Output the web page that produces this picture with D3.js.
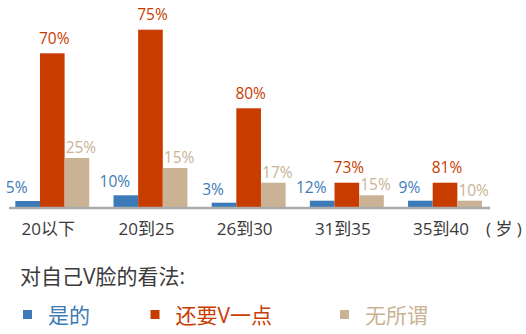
<!DOCTYPE html>
<html>
<head>
<meta charset="utf-8">
<script src="https://cdn.jsdelivr.net/npm/d3@7"></script>
<style>
  html, body { margin: 0; padding: 0; background: #fff; }
  svg { display: block; }
  text { font-family: "Open Sans", "Noto Sans CJK SC", sans-serif; }
</style>
</head>
<body>
<svg id="chart" width="526" height="334"></svg>
<script>
// ---- data ----
const categories = ["20以下", "20到25", "26到30", "31到35", "35到40"];
const seriesNames = ["是的", "还要V一点", "无所谓"];
// bar heights as drawn (relative units)
const barYes  = [6, 11.7, 4.3, 6.3, 6.3];
const barMore = [153.7, 177.3, 98.7, 24.3, 24.3];
const barAny  = [49, 39, 24.3, 11.7, 6.3];
// percentage labels
const pctYes  = [5, 10, 3, 12, 9];
const pctMore = [70, 75, 80, 73, 81];
const pctAny  = [25, 15, 17, 15, 10];
const unitLabel = "( 岁 )";
const titleText = "对自己V脸的看法:";

const colors = ["#3d7ab8", "#c93c00", "#c9b394"];
const textColor = "#3a3a3a";

const svg = d3.select("#chart");

const baseY = 207;
const x = d3.scaleBand().domain(categories).range([5.5, 491.8]).paddingInner(0.247).paddingOuter(0.1);
const xs = d3.scaleBand().domain(d3.range(3)).range([0, x.bandwidth()]).padding(0);
const y = d3.scaleLinear().domain([0, 180]).range([baseY, baseY - 180]);

const bars = [barYes, barMore, barAny];
const pcts = [pctYes, pctMore, pctAny];

// bars
bars.forEach((vals, s) => {
  svg.append("g").selectAll("rect").data(vals).join("rect")
    .attr("x", (d, i) => x(categories[i]) + xs(s))
    .attr("y", d => y(d))
    .attr("width", xs.bandwidth())
    .attr("height", d => y(0) - y(d))
    .attr("fill", colors[s]);
});

// axis line
const xAxis = d3.axisBottom(x).tickSize(0).tickFormat("");
const ax = svg.append("g").attr("transform", `translate(0,${baseY + 1})`).call(xAxis);
ax.select(".domain").attr("stroke", "#ababab").attr("stroke-width", 2.6)
  .attr("d", `M9,0H490`);

// value labels
const labelOffsets = [
  { dx: -11, dy: -8 },
  { dx: 2, dy: -9.5 },
  { dx: 4, dy: -5 }
];
pcts.forEach((vals, s) => {
  svg.append("g").selectAll("text").data(vals).join("text")
    .attr("x", (d, i) => x(categories[i]) + xs(s) + xs.bandwidth() / 2 + labelOffsets[s].dx)
    .attr("y", (d, i) => y(bars[s][i]) + labelOffsets[s].dy)
    .attr("text-anchor", "middle")
    .attr("font-size", 15.5)
    .attr("fill", colors[s])
    .text(d => d + "%");
});

// category labels
svg.append("g").selectAll("text").data(categories).join("text")
  .attr("x", d => x(d) + x.bandwidth() / 2 - 4)
  .attr("y", 235)
  .attr("text-anchor", "middle")
  .attr("font-size", 17)
  .attr("fill", textColor)
  .text(d => d);

svg.append("text")
  .attr("x", 486).attr("y", 235)
  .attr("font-size", 17)
  .attr("fill", textColor)
  .text(unitLabel);

// title
svg.append("text")
  .attr("x", 20).attr("y", 284)
  .attr("font-size", 21)
  .attr("fill", textColor)
  .text(titleText);

// legend
const legendX = [23, 150.5, 340];
const lg = svg.append("g").selectAll("g").data(seriesNames).join("g")
  .attr("transform", (d, i) => `translate(${legendX[i]},310)`);
lg.append("rect").attr("width", 9).attr("height", 9).attr("fill", (d, i) => colors[i]);
lg.append("text").attr("x", 25).attr("y", 13)
  .attr("font-size", 21)
  .attr("fill", (d, i) => colors[i])
  .text(d => d);
</script>
</body>
</html>
